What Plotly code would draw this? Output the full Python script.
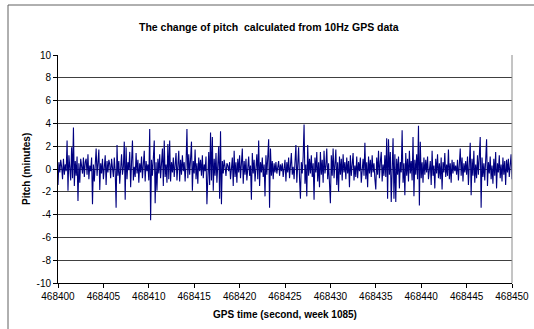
import numpy as np
import plotly.graph_objects as go

# GPS time (seconds, week 1085), 10 Hz samples
t_start = 468400.0
t_step = 0.1

# pitch change (minutes), rows of one second each
pitch = [
    -1.4, 0.6, -0.3, 0.8, 0.2, -0.9, 0.9, -0.5, 0.4, -0.2,
    2.5, -1.9, 1.2, 0.3, -1.0, 1.9, -0.8, 3.65, -1.5, 0.7,
    -0.6, 1.1, -2.8, 0.5, -1.2, 0.9, 0.2, -0.4, 1.0, -0.7,
    0.6, 0.9, -0.5, 1.3, -0.9, 0.3, -0.2, 1.0, -3.1, 0.4,
    -1.1, 0.8, 1.8, -0.6, 0.3, 1.7, -1.85, 0.5, -0.4, 0.9,
    -0.9, 0.2, 1.2, -1.4, 0.7, -0.3, 0.8, 0.4, -0.8, 0.9,
    0.3, -0.7, 1.0, -0.2, -3.4, 2.1, -0.6, 0.7, -1.3, 0.4,
    1.3, -0.5, 0.2, 2.4, -2.7, 1.9, -0.9, 0.6, -0.1, 1.5,
    -1.6, 0.6, 2.5, -1.0, 0.2, -0.7, 1.4, -0.4, 0.8, -1.2,
    0.5, -0.3, 1.1, -0.8, 0.3, 1.6, -1.1, 0.7, -0.2, 0.4,
    -1.0, 3.5, -4.5, 0.8, -0.6, 1.2, 2.5, -3.0, 0.6, -1.9,
    0.9, -0.4, 1.3, -0.8, 0.5, 1.8, -1.5, 2.5, -0.7, 0.4,
    -1.2, 2.2, -0.9, 2.5, -1.1, 0.6, -0.3, 1.0, -0.7, 0.5,
    1.4, -1.0, 0.3, 1.6, -1.1, 0.8, -0.5, 1.2, -0.2, 0.6,
    -1.1, 0.4, 3.5, -0.8, 1.3, -0.5, 0.9, 2.4, -1.9, 0.7,
    -0.4, 1.7, -0.9, 0.5, -1.3, 1.0, -0.2, 0.8, -0.6, 1.2,
    -0.8, 0.4, -0.2, 1.1, -3.1, 0.6, 1.5, -1.4, 3.2, -1.0,
    2.8, -1.9, 0.9, -0.6, 1.4, -1.2, 0.3, 2.0, -2.6, 3.3,
    -3.1, 0.7, -0.4, 0.8, 0.2, -0.6, 0.5, 0.3, -0.2, 0.6,
    -0.9, 0.4, 1.0, -1.5, 1.6, -0.7, 0.6, -1.2, 0.9, -0.3,
    1.2, -0.8, 0.4, 1.8, -1.3, 0.7, -0.5, 0.9, -1.0, 0.5,
    1.1, -0.6, 0.3, -2.7, 1.4, -0.4, 0.8, -1.1, 0.5, 1.3,
    -0.9, 2.5, -1.5, 0.6, -0.3, 1.0, -0.7, 0.4, -2.4, 1.2,
    -0.5, 0.8, 2.6, -3.4, 1.8, -0.6, 0.7, -0.9, 0.5, -0.3,
    0.6, -0.4, 0.2, 0.7, -0.6, 0.4, -0.2, 0.5, -0.7, 0.3,
    0.8, -1.1, 0.6, -0.3, 1.0, -0.8, 0.4, 1.4, -0.5, 0.2,
    -0.9, 0.7, 2.1, -1.2, 0.5, 1.9, -0.8, -2.6, 0.6, -0.4,
    1.1, 3.9, -1.3, 0.4, -2.4, 2.1, -0.6, 0.9, -0.4, 1.2,
    -0.7, 0.5, -2.7, 1.0, -0.3, 1.5, -1.1, 0.6, -1.6, 1.5,
    -0.5, 0.8, -1.2, 1.6, -0.4, 0.3, 1.8, -0.9, 0.5, -1.3,
    -3.0, 1.2, -0.6, 1.8, -0.8, 0.4, 1.7, -1.4, 0.6, -2.0,
    1.1, -0.5, 0.9, -1.0, 1.3, -0.3, 0.6, -0.9, 1.0, -0.4,
    0.7, -1.6, 1.2, -0.6, 0.5, 1.4, -1.0, 0.3, -0.7, 1.1,
    -0.8, 0.6, -0.2, 1.0, -1.2, 0.4, 0.9, -0.6, 2.3, -0.9,
    0.6, -1.6, 1.1, -0.4, 0.8, -0.7, 1.2, -0.3, 0.5, -0.9,
    -1.8, 1.0, -0.5, 1.6, -0.8, 0.6, 1.5, -1.1, 0.4, -0.6,
    1.2, -0.7, 2.7, -2.6, 2.6, -0.5, 1.5, -2.9, 0.8, 2.7,
    -2.6, 1.3, -2.9, 0.9, -0.5, 1.1, -1.7, 0.6, -0.3, 3.4,
    -1.2, 0.5, -2.3, 1.4, -0.6, 0.9, -1.1, 1.6, -0.4, 0.7,
    -1.0, 2.8, -2.4, 0.8, -0.5, 1.3, -0.9, 3.8, -3.2, 2.4,
    -0.8, 0.6, -1.2, 1.0, -0.5, 0.8, -0.3, 1.1, -0.9, 0.4,
    0.7, -1.4, 1.6, -0.6, 0.3, -1.7, 0.9, -0.4, 1.3, -0.8,
    0.5, -0.9, 1.0, -1.8, 0.6, -0.3, 1.4, -0.7, 0.4, -0.6,
    1.7, -0.9, 0.5, -1.2, 0.8, -0.4, 0.6, -0.2, 0.3, -0.5,
    0.8, -1.0, 0.4, 1.8, -0.6, 1.0, -1.1, 0.5, -0.3, 0.7,
    -0.5, 1.1, -1.4, 0.6, 2.3, -2.3, 0.9, -0.6, 1.6, -1.2,
    0.4, -0.8, 1.2, -0.5, 0.7, 2.8, -3.4, 1.0, -0.7, 0.5,
    -1.0, 0.8, 2.6, -1.5, 0.6, -0.4, 1.1, -0.9, 0.3, -1.3,
    0.9, -0.6, 1.5, -1.7, 0.5, -0.3, 1.2, -0.8, 0.4, -1.1,
    1.0, -0.5, 0.7, -1.4, 0.8, -0.3, 0.9, -0.7, 0.4, 1.3,
    -0.9,
]
gps_time = [round(t_start + i * t_step, 1) for i in range(len(pitch))]

y_tick_vals = [-10, -8, -6, -4, -2, 0, 2, 4, 6, 8, 10]
y_tick_text = ["-10", "-8", "-6", "-4", "-2", "0", "2", "4", "6", "8", "10"]

title_text = "The change of pitch  calculated from 10Hz GPS data"
x_title = "GPS time (second, week 1085)"
y_title = "Pitch (minutes)"

FONT = "Liberation Sans, Arial, sans-serif"

# plot area in pixels: x 58..512, y 55..283
L, R, T, B = 58, 512, 55, 283
W, H = R - L, B - T


def px(x):
    return (x - L) / W


def py(y):
    return (B - y) / H


fig = go.Figure()
fig.add_trace(go.Scatter(
    x=gps_time, y=pitch, mode="lines",
    line=dict(color="#000080", width=1.1),
    showlegend=False, hoverinfo="skip",
))

fig.update_layout(
    width=534, height=329,
    margin=dict(l=L, r=534 - R, t=T, b=329 - B, autoexpand=False),
    paper_bgcolor="white", plot_bgcolor="white",
    font=dict(family=FONT, size=10, color="black"),
    xaxis=dict(range=[468400, 468450], dtick=5, tick0=468400,
               tickformat="d", showgrid=False, zeroline=False,
               showline=True, linecolor="black", linewidth=1,
               ticks="outside", ticklen=4, tickcolor="black",
               tickfont=dict(size=10), automargin=False),
    yaxis=dict(range=[-10, 10], tickmode="array",
               tickvals=y_tick_vals, ticktext=y_tick_text,
               showgrid=True, gridcolor="#404040", gridwidth=1,
               zeroline=False,
               showline=True, linecolor="black", linewidth=1,
               ticks="outside", ticklen=4, tickcolor="black",
               tickfont=dict(size=10), automargin=False),
    annotations=[
        dict(text="<b>" + title_text + "</b>", xref="paper", yref="paper",
             x=px(269), y=py(27), xanchor="center", yanchor="middle",
             showarrow=False, font=dict(size=10.5)),
        dict(text="<b>" + x_title + "</b>", xref="paper", yref="paper",
             x=px(285), y=py(314), xanchor="center", yanchor="middle",
             showarrow=False, font=dict(size=10)),
        dict(text="<b>" + y_title + "</b>", xref="paper", yref="paper",
             x=px(26), y=py(169), xanchor="center", yanchor="middle",
             textangle=-90, showarrow=False, font=dict(size=10)),
    ],
    shapes=[
        # plot area right border
        dict(type="line", xref="paper", yref="paper", x0=1, x1=1, y0=0, y1=1,
             line=dict(color="#8a8a8a", width=1)),
        # outer chart frame (left and top visible)
        dict(type="line", xref="paper", yref="paper",
             x0=px(8), x1=px(8), y0=py(5), y1=py(329),
             line=dict(color="#606060", width=1)),
        dict(type="line", xref="paper", yref="paper",
             x0=px(8), x1=px(534), y0=py(5), y1=py(5),
             line=dict(color="#606060", width=1)),
    ],
)

fig.write_html(
    "out.html",
    config={"displayModeBar": False},
    post_script=(
        "document.body.style.margin='0px';"
        "document.body.style.overflow='hidden';"
        "document.documentElement.style.overflow='hidden';"
    ),
)
